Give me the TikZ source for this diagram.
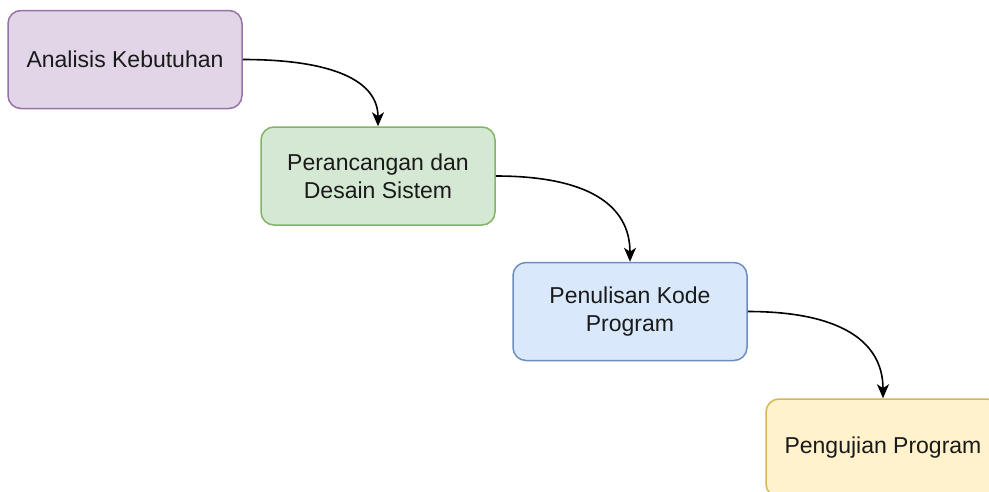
\documentclass[tikz,border=0pt]{standalone}
\usepackage{fontspec}
\setmainfont{Liberation Sans}
\usetikzlibrary{arrows.meta}
\definecolor{pfill}{HTML}{E1D5E7}\definecolor{pline}{HTML}{9673A6}
\definecolor{gfill}{HTML}{D5E8D4}\definecolor{gline}{HTML}{82B366}
\definecolor{bfill}{HTML}{DAE8FC}\definecolor{bline}{HTML}{6C8EBF}
\definecolor{yfill}{HTML}{FFF2CC}\definecolor{yline}{HTML}{D6B656}
\definecolor{txt}{HTML}{1A1A1A}
\tikzset{
  stagebox/.style={draw, rounded corners=13pt, line width=1.5pt,
    minimum width=234pt, minimum height=98pt, align=center,
    inner sep=0pt, text=txt, font=\fontsize{23}{27.6}\selectfont},
  flowarrow/.style={draw, line width=1.6pt,
    -{Stealth[length=14pt,width=12pt,inset=4pt]}}
}
\begin{document}
\begin{tikzpicture}[x=1pt,y=-1pt]
\clip (0,0) rectangle (989,491);
\fill[white] (0,0) rectangle (989,491);
\node[stagebox, fill=pfill, draw=pline] (b1) at (125,59.5) {Analisis Kebutuhan};
\node[stagebox, fill=gfill, draw=gline] (b2) at (378,176) {Perancangan dan\\Desain Sistem};
\node[stagebox, fill=bfill, draw=bline] (b3) at (630,311.5) {Penulisan Kode\\Program};
\node[stagebox, fill=yfill, draw=yline] (b4) at (883,448) {Pengujian Program};
\draw[flowarrow] (b1.east) .. controls +(90.7,0) and +(0,-45.3) .. (b2.north);
\draw[flowarrow] (b2.east) .. controls +(90,0) and +(0,-58) .. (b3.north);
\draw[flowarrow] (b3.east) .. controls +(90.7,0) and +(0,-58) .. (b4.north);
\end{tikzpicture}
\end{document}
